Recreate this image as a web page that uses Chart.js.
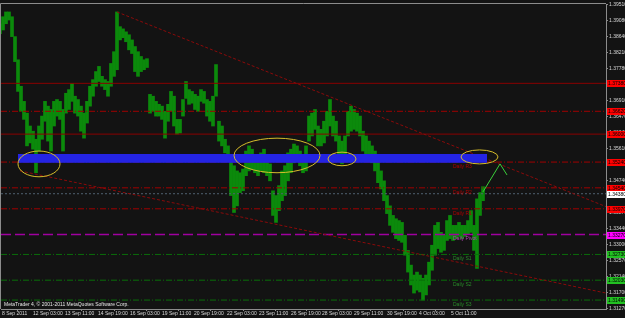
<!DOCTYPE html>
<html><head><meta charset="utf-8">
<script src="https://cdn.jsdelivr.net/npm/chart.js@4.4.0/dist/chart.umd.min.js"></script>
<style>html,body{margin:0;padding:0;background:#131313;overflow:hidden}
#wrap{width:625px;height:318px;position:relative}</style></head>
<body><div id="wrap"><canvas id="c" width="625" height="318"></canvas></div>
<script>
// ---- data (hour index along the chart, bar high / low prices) ----
const barIndex = [0,3,6,9,12,15,18,21,24,27,30,33,36,39,42,45,48,51,54,57,60,63,66,69,72,75,78,81,84,87,90,93,96,99,102,105,108,111,114,117,120,123,126,129,132,135,138,141,144,147,150,153,156,159,162,165,168,171,174,177,180,183,186,189,192,195,198,201,204,207,210,213,216,219,222,225,228,231,234,237,240,243,246,249,252,255,258,261,264,267,270,273,276,279,282,285,288,291,294,297,300,303,306,309,312,315,318,321,324,327,330,333,336,339,342,345,348,351,354,357,360,363,366,369,372,375,378,381,384,387,390,393,396,399,402,405,408,411,414,417,420,423,426,429,432,435,438,441,444,447,450,453,456,459,462,465,468,471,474,477,480,483];
const highs = [1.3900,1.3919,1.3932,1.3932,1.3919,1.3865,1.3802,1.3730,1.3689,1.3657,1.3622,1.3608,1.3586,1.3622,1.3649,1.3689,1.3676,1.3667,1.3689,1.3694,1.3689,1.3667,1.3711,1.3721,1.3738,1.3703,1.3694,1.3676,1.3657,1.3689,1.3730,1.3748,1.3770,1.3784,1.3757,1.3748,1.3743,1.3792,1.3824,1.3932,1.3892,1.3886,1.3878,1.3870,1.3856,1.3838,1.3824,1.3811,1.3802,1.3805,1.3708,1.3703,1.3689,1.3681,1.3676,1.3662,1.3681,1.3716,1.3703,1.3640,1.3640,1.3694,1.3743,1.3721,1.3716,1.3708,1.3703,1.3721,1.3716,1.3694,1.3689,1.3703,1.3789,1.3635,1.3622,1.3586,1.3568,1.3527,1.3514,1.3500,1.3495,1.3505,1.3554,1.3568,1.3559,1.3541,1.3527,1.3549,1.3559,1.3541,1.3519,1.3446,1.3433,1.3460,1.3500,1.3514,1.3549,1.3559,1.3573,1.3568,1.3554,1.3541,1.3568,1.3649,1.3657,1.3667,1.3622,1.3613,1.3635,1.3662,1.3694,1.3649,1.3635,1.3595,1.3581,1.3595,1.3662,1.3676,1.3667,1.3657,1.3649,1.3608,1.3595,1.3581,1.3568,1.3554,1.3532,1.3500,1.3473,1.3433,1.3405,1.3379,1.3370,1.3365,1.3360,1.3325,1.3284,1.3244,1.3217,1.3225,1.3217,1.3208,1.3217,1.3252,1.3298,1.3352,1.3360,1.3333,1.3325,1.3365,1.3379,1.3352,1.3352,1.3360,1.3352,1.3352,1.3365,1.3392,1.3352,1.3424,1.3441,1.3457];
const lows = [1.3873,1.3883,1.3900,1.3910,1.3865,1.3797,1.3716,1.3662,1.3640,1.3568,1.3576,1.3559,1.3495,1.3554,1.3586,1.3635,1.3581,1.3554,1.3622,1.3649,1.3640,1.3554,1.3657,1.3667,1.3689,1.3657,1.3649,1.3608,1.3589,1.3630,1.3676,1.3703,1.3730,1.3743,1.3730,1.3721,1.3703,1.3730,1.3757,1.3775,1.3856,1.3862,1.3851,1.3829,1.3819,1.3770,1.3757,1.3770,1.3775,1.3781,1.3657,1.3662,1.3649,1.3649,1.3640,1.3589,1.3635,1.3662,1.3622,1.3600,1.3603,1.3649,1.3697,1.3681,1.3684,1.3667,1.3662,1.3689,1.3684,1.3649,1.3635,1.3622,1.3703,1.3581,1.3568,1.3549,1.3527,1.3433,1.3387,1.3405,1.3441,1.3446,1.3487,1.3500,1.3505,1.3495,1.3487,1.3500,1.3495,1.3487,1.3473,1.3379,1.3360,1.3392,1.3419,1.3433,1.3473,1.3495,1.3522,1.3527,1.3514,1.3495,1.3500,1.3581,1.3595,1.3613,1.3568,1.3568,1.3576,1.3595,1.3622,1.3595,1.3581,1.3541,1.3519,1.3541,1.3595,1.3608,1.3613,1.3608,1.3595,1.3554,1.3541,1.3532,1.3522,1.3500,1.3468,1.3451,1.3419,1.3384,1.3352,1.3333,1.3316,1.3311,1.3306,1.3271,1.3225,1.3190,1.3168,1.3176,1.3171,1.3149,1.3163,1.3190,1.3230,1.3271,1.3289,1.3279,1.3284,1.3311,1.3316,1.3311,1.3316,1.3322,1.3316,1.3322,1.3327,1.3333,1.3284,1.3235,1.3379,1.3419];

const xTickIndex = [2,33,65,98,130,162,194,227,259,291,322,354,387,419,451];
const xTickLabels = ['8 Sep 2011','12 Sep 03:00','13 Sep 11:00','14 Sep 19:00','16 Sep 03:00','19 Sep 11:00','20 Sep 19:00','22 Sep 03:00','23 Sep 11:00','26 Sep 19:00','28 Sep 03:00','29 Sep 11:00','30 Sep 19:00','4 Oct 03:00','5 Oct 11:00'];
const yTickValues = [1.39510,1.39080,1.38640,1.38210,1.37780,1.37350,1.36910,1.36470,1.36040,1.35610,1.35170,1.34740,1.34310,1.33870,1.33440,1.33000,1.32570,1.32140,1.31700,1.31270];

// horizontal levels
const levelValues = [1.3738,1.3662,1.3600,1.3524,1.3454,1.3438,1.3397,1.3327,1.3273,1.3203,1.3149];
const levelNames  = ['','','','Daily R3','Daily R2','','Daily R1','Daily Pivot','Daily S1','Daily S2','Daily S3'];

// drawn objects (index, price)
const upperTrend = [[117,1.3932],[606,1.3403]];
const lowerTrend = [[20,1.3500],[606,1.3168]];
const arrowPath  = [[483,1.3443],[500,1.3519],[507,1.3489]];
const zoneBand   = [18,487,1.3546,1.3522];
const ellipses   = [[18,60,1.3554,1.3484],[234,320,1.3589,1.3495],[328,356,1.3551,1.3514],[461,498,1.3557,1.3519]];
const copyright  = 'MetaTrader 4, \u00A9 2001-2011 MetaQuotes Software Corp.';

// ---- styles ----
const FONT = 'Liberation Sans';
const RED_SOLID = '#8a0000', RED_DD = '#a00000', GREEN_DD = '#0a6e0a', MAG = '#a000a0';
const DD = [6,2,1,2];
const levelStyles = [
  {c:RED_SOLID,d:[],box:'#ff0000'},
  {c:RED_DD,d:DD,box:'#ff0000'},
  {c:RED_SOLID,d:[],box:'#ff0000'},
  {c:RED_DD,d:DD,box:'#ff0000',t:'#b00000'},
  {c:RED_DD,d:DD,box:'#ff0000',t:'#b00000'},
  {c:'#4f6070',d:[2,2],box:'#ffffff'},
  {c:RED_DD,d:DD,box:'#ff0000',t:'#b00000'},
  {c:MAG,d:[10,4],box:'#ff00ff',t:'#b040b0',w:1.5},
  {c:GREEN_DD,d:DD,box:'#22c022',t:'#2a8a2a'},
  {c:GREEN_DD,d:DD,box:'#22c022',t:'#2a8a2a'},
  {c:GREEN_DD,d:DD,box:'#22c022',t:'#2a8a2a'}
];

const datasets = [{
  type:'bar',
  data: barIndex.map((x,i)=>({x:x,y:[lows[i],highs[i]]})),
  backgroundColor:'#0b8a0b', borderWidth:0, barThickness:3, grouped:false, order:20
}];
levelValues.forEach((v,i)=>{
  const s = levelStyles[i];
  datasets.push({type:'line',data:[{x:1,y:v},{x:606,y:v}],borderColor:s.c,borderWidth:s.w||1,borderDash:s.d,pointRadius:0,order:5});
});
datasets.push({type:'line',data:upperTrend.map(p=>({x:p[0],y:p[1]})),borderColor:'#8a0a0a',borderWidth:1,borderDash:[3,2],pointRadius:0,order:4});
datasets.push({type:'line',data:lowerTrend.map(p=>({x:p[0],y:p[1]})),borderColor:'#8a0a0a',borderWidth:1,borderDash:[3,2],pointRadius:0,order:4});
datasets.push({type:'line',data:arrowPath.map(p=>({x:p[0],y:p[1]})),borderColor:'#3ad03a',borderWidth:1,pointRadius:0,order:1});

const overlay = {
  id:'overlay',
  beforeDraw(c){const ctx=c.ctx;ctx.save();ctx.fillStyle='#131313';ctx.fillRect(0,0,c.width,c.height);ctx.restore();},
  afterDatasetsDraw(c){
    const ctx=c.ctx, xs=c.scales.x, ys=c.scales.y;
    ctx.save();
    // zone band
    const bx1=xs.getPixelForValue(zoneBand[0]), bx2=xs.getPixelForValue(zoneBand[1]);
    const by1=ys.getPixelForValue(zoneBand[2]), by2=ys.getPixelForValue(zoneBand[3]);
    ctx.fillStyle='#2424e4'; ctx.fillRect(bx1,by1,bx2-bx1,by2-by1);
    // ellipses
    ctx.strokeStyle='#d6bd2a'; ctx.lineWidth=1;
    ellipses.forEach(e=>{
      const x1=xs.getPixelForValue(e[0]),x2=xs.getPixelForValue(e[1]);
      const y1=ys.getPixelForValue(e[2]),y2=ys.getPixelForValue(e[3]);
      ctx.beginPath();ctx.ellipse((x1+x2)/2,(y1+y2)/2,(x2-x1)/2,(y2-y1)/2,0,0,Math.PI*2);ctx.stroke();
    });
    // level names
    ctx.font='5px "'+FONT+'"'; ctx.textBaseline='top'; ctx.textAlign='left';
    levelValues.forEach((v,i)=>{
      if(!levelNames[i])return;
      ctx.fillStyle=levelStyles[i].t;
      ctx.fillText(levelNames[i], xs.getPixelForValue(453), ys.getPixelForValue(v)+2);
    });
    // copyright
    ctx.fillStyle='#e6e6e6'; ctx.textBaseline='middle';
    ctx.fillText(copyright, c.chartArea.left+3, c.chartArea.bottom-4);
    ctx.restore();
  },
  afterDraw(c){
    const ctx=c.ctx, ys=c.scales.y, a=c.chartArea;
    ctx.save();
    ctx.font='5px "'+FONT+'"'; ctx.textBaseline='middle'; ctx.textAlign='left';
    levelValues.forEach((v,i)=>{
      const y=Math.round(ys.getPixelForValue(v));
      ctx.fillStyle=levelStyles[i].box; ctx.fillRect(a.right+1,y-3,20,7);
      ctx.fillStyle='#000'; ctx.fillText(v.toFixed(5), a.right+2, y+0.5);
    });
    ctx.strokeStyle='#8c8c8c'; ctx.lineWidth=1;
    ctx.beginPath(); ctx.moveTo(0.5,a.bottom); ctx.lineTo(0.5,a.top-0.5); ctx.lineTo(a.right,a.top-0.5); ctx.stroke();
    ctx.restore();
  }
};

new Chart(document.getElementById('c'),{
  type:'bar',
  data:{datasets},
  options:{
    responsive:false, animation:false, events:[],
    layout:{padding:{left:1,top:2,right:0,bottom:0}},
    plugins:{legend:{display:false},tooltip:{enabled:false}},
    scales:{
      x:{type:'linear',position:'bottom',min:1,max:606,offset:false,
        afterBuildTicks:s=>{s.ticks=xTickIndex.map(v=>({value:v}));},
        afterFit:s=>{s.height=9;},
        ticks:{callback:(v,i)=>xTickLabels[i],autoSkip:false,maxRotation:0,minRotation:0,align:'start',padding:0,color:'#d8d8d8',font:{family:FONT,size:5}},
        grid:{drawOnChartArea:false,drawTicks:true,tickLength:2,color:'#8c8c8c'},
        border:{display:true,color:'#8c8c8c'}},
      y:{type:'linear',position:'right',min:1.31247,max:1.39536,
        afterBuildTicks:s=>{s.ticks=yTickValues.map(v=>({value:v}));},
        afterFit:s=>{s.width=19;},
        ticks:{callback:v=>Number(v).toFixed(5),autoSkip:false,padding:1,color:'#d8d8d8',font:{family:FONT,size:5}},
        grid:{drawOnChartArea:false,drawTicks:true,tickLength:2,color:'#8c8c8c'},
        border:{display:true,color:'#8c8c8c'}}
    }
  },
  plugins:[overlay]
});
</script></body></html>
